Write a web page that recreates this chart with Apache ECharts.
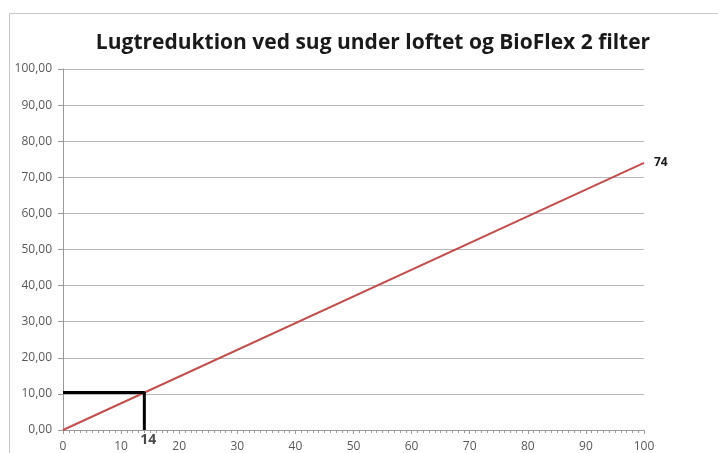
<!DOCTYPE html>
<html lang="da">
	<head>
		<meta charset="utf-8">
		<title>Lugtreduktion</title>
		<style>
			html, body { margin: 0; padding: 0; background: #fff; }
			#chart { width: 718px; height: 453px; }
		</style>
	</head>
	<body>
		<div id="chart"></div>
		<script src="https://cdn.jsdelivr.net/npm/echarts@6/dist/echarts.min.js"></script>
		<script type="text/javascript">
			// data
			var xTicks = [0, 10, 20, 30, 40, 50, 60, 70, 80, 90, 100];
			var yTicks = [0, 10, 20, 30, 40, 50, 60, 70, 80, 90, 100];
			var reductionLine = [[0, 0], [100, 74]];
			var readoffLine = [[0, 10.4], [14, 10.4], [14, 0]];
			var readoffX = 14;
			var endValue = 74;

			var myChart = echarts.init(document.getElementById('chart'));
			var labelFont = 'Open Sans';

			var option = {
				backgroundColor: '#fff',
				animation: false,
				title: {
					text: 'Lugtreduktion ved sug under loftet og BioFlex 2 filter',
					left: 368,
					textAlign: 'center',
					top: 28,
					textStyle: {
						fontFamily: labelFont,
						fontWeight: 'bold',
						fontSize: 21,
						color: '#1a1a1a'
					}
				},
				graphic: [
					{
						type: 'rect',
						shape: { x: 9.5, y: 13.5, width: 800, height: 500 },
						style: { fill: 'none', stroke: '#c8c8c8', lineWidth: 1 },
						silent: true
					}
				],
				grid: { left: 63, right: 74, top: 69, bottom: 23 },
				xAxis: {
					type: 'value',
					min: xTicks[0],
					max: xTicks[xTicks.length - 1],
					interval: 10,
					axisLine: { lineStyle: { color: '#9a9a9a' } },
					axisTick: { show: true, length: 4, lineStyle: { color: '#9a9a9a' } },
					minorTick: { show: true, splitNumber: 10, length: 3, lineStyle: { color: '#9a9a9a' } },
					splitLine: { show: false },
					axisLabel: {
						fontFamily: labelFont,
						fontSize: 12,
						color: '#595959',
						margin: 11
					}
				},
				yAxis: {
					type: 'value',
					min: yTicks[0],
					max: yTicks[yTicks.length - 1],
					interval: 10,
					axisLine: { show: true, lineStyle: { color: '#9a9a9a' } },
					axisTick: { show: true, length: 5, lineStyle: { color: '#9a9a9a' } },
					splitLine: { lineStyle: { color: '#b8b8b8' } },
					axisLabel: {
						fontFamily: labelFont,
						fontSize: 12,
						color: '#595959',
						margin: 11,
						formatter: function (v) {
							return v.toFixed(2).replace('.', ',');
						}
					}
				},
				series: [
					{
						name: 'Lugtreduktion',
						type: 'line',
						data: reductionLine,
						showSymbol: false,
						lineStyle: { color: '#c0504d', width: 2 },
						endLabel: {
							show: true,
							formatter: String(endValue),
							fontFamily: labelFont,
							fontWeight: 'bold',
							fontSize: 12,
							color: '#1a1a1a',
							distance: 10
						},
						z: 3
					},
					{
						name: 'Aflæsning',
						type: 'line',
						data: readoffLine,
						showSymbol: false,
						lineStyle: { color: '#000', width: 3 },
						z: 4
					},
					{
						name: 'Aflæst',
						type: 'scatter',
						data: [[readoffX, 0]],
						symbolSize: 0,
						label: {
							show: true,
							formatter: String(readoffX),
							position: 'bottom',
							distance: 3,
							offset: [4, 0],
							fontFamily: labelFont,
							fontWeight: 'bold',
							fontSize: 14,
							color: '#1a1a1a'
						},
						z: 5
					}
				]
			};
			myChart.setOption(option);
		</script>
	</body>
</html>
